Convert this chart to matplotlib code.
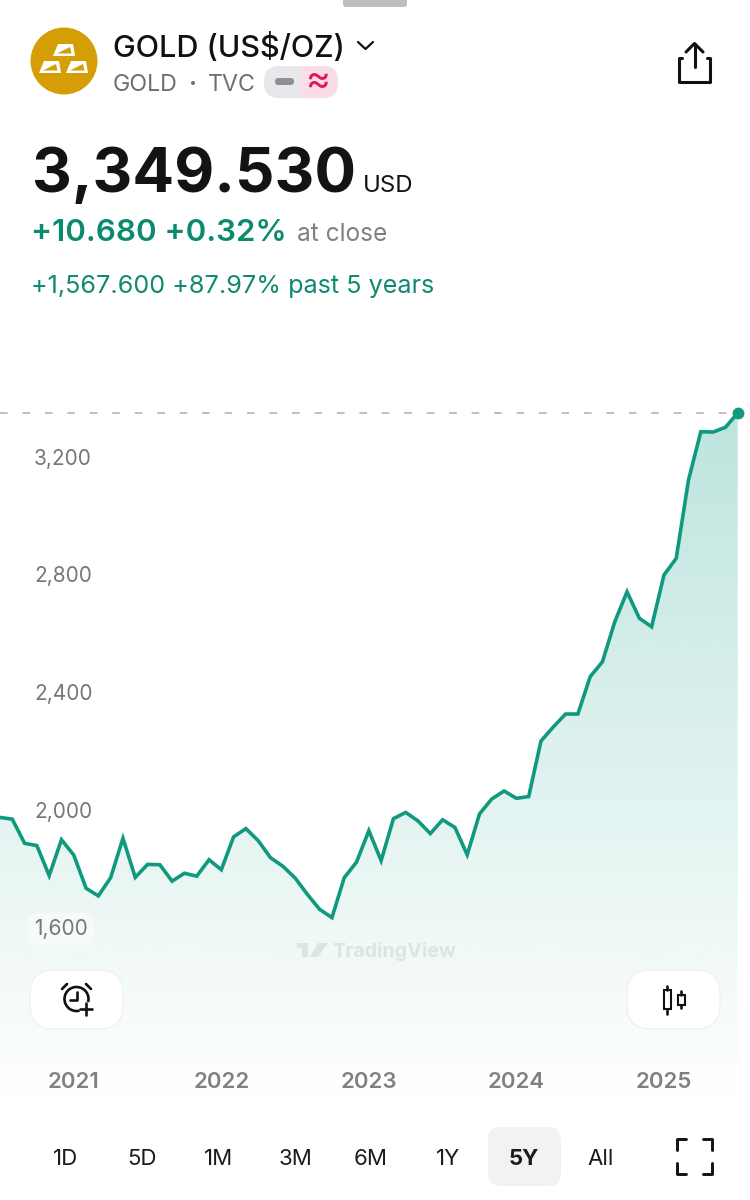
import numpy as np
import matplotlib
matplotlib.use('Agg')
import matplotlib.pyplot as plt
from matplotlib.patches import Circle, FancyBboxPatch, Polygon, Rectangle, Arc

plt.rcParams['font.family'] = ['Inter', 'DejaVu Sans']

# monthly closes, Jul 2020 to Jul 2025
closes = [1973, 1967, 1885, 1877, 1775, 1897, 1845, 1732, 1706, 1768, 1902, 1769,
          1813, 1812, 1756, 1783, 1773, 1829, 1795, 1907, 1935, 1894, 1836, 1807,
          1767, 1711, 1660, 1632, 1768, 1821, 1928, 1826, 1969, 1990, 1961, 1918,
          1965, 1939, 1846, 1985, 2036, 2063, 2038, 2044, 2233, 2281, 2325, 2325,
          2452, 2503, 2639, 2741, 2651, 2622, 2798, 2855, 3122, 3286, 3285, 3301,
          3349.53]
year_ticks = [6, 18, 30, 42, 54]
year_labels = ['2021', '2022', '2023', '2024', '2025']
price_ticks = [1600, 2000, 2400, 2800, 3200]
price_labels = ['1,600', '2,000', '2,400', '2,800', '3,200']
ranges = ['1D', '5D', '1M', '3M', '6M', '1Y', '5Y', 'All']
range_x = [66, 142, 219, 295, 371, 448, 524, 601]

TEAL = '#0f9a7f'
W, H = 750, 1200

fig = plt.figure(figsize=(7.5, 12), dpi=100, facecolor='white')

# chart axes, px 380 to 1110 vertically
top, bottom = 380, 1110
ax = fig.add_axes([0, 1 - bottom / H, 1, (bottom - top) / H])
px_per_unit = 117.5 / 400
val = lambda py: 2000 - (py - 809.5) / px_per_unit
for s in ax.spines.values():
    s.set_visible(False)

x = np.arange(len(closes))
# gradient under the line
grad = np.zeros((256, 2, 4))
grad[..., 0] = 8 / 255
grad[..., 1] = 153 / 255
grad[..., 2] = 129 / 255
grad[..., 3] = np.linspace(0.265, 0, 256)[:, None]
im = ax.imshow(grad, extent=[0, x[-1], val(bottom), closes[-1]], aspect='auto', zorder=1)
ax.set_xlim(0, W / 12.295)
ax.set_ylim(val(bottom), val(top))
poly = ax.fill_between(x, closes, val(bottom), color='none')
im.set_clip_path(poly.get_paths()[0], transform=ax.transData)

ax.plot([0, x[-1]], [closes[-1], closes[-1]], color='#aeaeae', lw=1.1, dashes=(5, 9.7), zorder=2)
ax.plot(x, closes, color=TEAL, lw=2.6, solid_joinstyle='miter', zorder=3)
ax.plot(x[-1], closes[-1], 'o', color=TEAL, ms=8.5, mec='none', zorder=4, clip_on=False)

ax.set_yticks(price_ticks)
ax.set_yticklabels(price_labels, fontsize=15, color='#777777', ha='left')
ax.tick_params(axis='y', length=0, pad=-24.5)
ax.set_xticks(year_ticks)
ax.set_xticklabels(year_labels, fontsize=16, color='#808080', fontweight='semibold')
ax.tick_params(axis='x', length=0, pad=-27.5)
ax.get_yticklabels()[0].set_bbox(dict(boxstyle='round,pad=0.3,rounding_size=0.5', fc=(1, 1, 1, 0.5), ec='none'))

# overlay in pixel coordinates for the app furniture
ui = fig.add_axes([0, 0, 1, 1], facecolor='none')
ui.set_xlim(0, W)
ui.set_ylim(H, 0)
ui.axis('off')


def rbox(x0, y0, x1, y1, r, ec='none', **kw):
    ui.add_patch(FancyBboxPatch((x0 + r, y0 + r), x1 - x0 - 2 * r, y1 - y0 - 2 * r,
                                boxstyle='round,pad=%f,rounding_size=%f' % (r, r), ec=ec, **kw))


def stroke(xs, ys, lw=1.9, color='#111111'):
    ui.plot(xs, ys, color=color, lw=lw, solid_capstyle='round', solid_joinstyle='round')


# top handle
rbox(343, -8, 407, 7, 3, fc='#bdbdbd')

# coin with gold bars
ui.add_patch(Circle((64, 61), 33.5, fc='#d69e05', ec='none'))
for bx, by in [(53, 44), (39, 61), (66, 61)]:
    ui.add_patch(Polygon([(bx + 5, by), (bx + 20, by), (bx + 22, by + 12), (bx, by + 12)], fc='white', ec='none'))
    ui.add_patch(Polygon([(bx + 4, by + 9.5), (bx + 17, by + 3), (bx + 18.5, by + 9.5)], fc='#d69e05', ec='none'))

ui.text(113, 57, 'GOLD (US$/OZ)', fontsize=22, fontweight='medium', color='#111111')
stroke([358, 365.5, 373], [42, 49, 42], lw=1.6)
ui.text(113, 91, 'GOLD', fontsize=16.7, color='#6f6f73')
ui.add_patch(Circle((193, 83), 2, fc='#6f6f73', ec='none'))
ui.text(208, 91, 'TVC', fontsize=16.7, color='#6f6f73')

# pill
rbox(264, 66, 338, 98, 15, fc='#e8e8ea')
clip = Rectangle((301, 60), 40, 45, transform=ui.transData)
pink = FancyBboxPatch((279, 81), 44, 2, boxstyle='round,pad=15,rounding_size=15', fc='#fbdce7', ec='none')
ui.add_patch(pink)
pink.set_clip_path(clip)
rbox(275, 78, 294, 85, 3.5, fc='#8e8f98')
ui.text(318, 81, '≈', fontsize=27, color='#e0185f', ha='center', va='center')

# share icon
stroke([682, 679, 679, 710, 710, 707], [58, 58, 82, 82, 58, 58], lw=2.2)
stroke([694.5, 694.5], [44, 67], lw=2.2)
stroke([686, 694.5, 703], [52, 43.5, 52], lw=2.2)

# price block
ui.text(32, 192.5, '3,349.530', fontsize=44.5, fontweight='bold', color='#131313')
ui.text(363, 192, 'USD', fontsize=17.3, color='#131313')
ui.text(31, 241, '+10.680 +0.32%', fontsize=22.5, fontweight='semibold', color='#0b8a6f')
ui.text(297, 241, 'at close', fontsize=17.6, color='#808080')
ui.text(31, 292.5, '+1,567.600 +87.97% past 5 years', fontsize=18.1, color='#0f8a70')

# watermark
ui.text(332, 957, 'TradingView', fontsize=14.2, fontweight='bold', color='#d9e6e3')
ui.add_patch(Rectangle((297, 943), 11, 4.5, fc='#d9e6e3', ec='none'))
ui.add_patch(Rectangle((302, 943), 5.5, 14, fc='#d9e6e3', ec='none'))
ui.add_patch(Polygon([(310, 957), (318, 943), (328, 943), (318, 957)], fc='#d9e6e3', ec='none'))

# floating buttons
rbox(30, 970, 123, 1029, 24, fc='white', ec='#edf3f1')
rbox(627, 970, 720, 1029, 24, fc='white', ec='#edf3f1')
ui.add_patch(Arc((76.5, 999), 24, 24, theta1=75, theta2=15, ec='#111111', lw=1.9))
stroke([76.5, 76.5, 70], [992, 1000, 1000])
stroke([62, 67], [989, 984])
stroke([91, 86], [989, 984])
stroke([86, 86], [1003, 1015])
stroke([80, 92], [1009, 1009])
for cx, y0, y1, b0, b1 in [(667, 986, 1014, 990, 1009), (681, 991, 1008, 995, 1005)]:
    stroke([cx, cx], [y0, b0])
    stroke([cx, cx], [b1, y1])
    ui.add_patch(Rectangle((cx - 3.5, b0), 7, b1 - b0, fc='none', ec='#111111', lw=1.5))

# range selector
rbox(488, 1127, 561, 1186, 13, fc='#f2f2f2')
for lab, lx in zip(ranges, range_x):
    ui.text(lx, 1165, lab, fontsize=16, ha='center', color='#1c1c1c',
            fontweight='bold' if lab == '5Y' else 'normal')

# fullscreen corners
stroke([677, 677, 686], [1150, 1139, 1139], lw=2.1)
stroke([703, 712, 712], [1139, 1139, 1150], lw=2.1)
stroke([677, 677, 686], [1163, 1174, 1174], lw=2.1)
stroke([703, 712, 712], [1174, 1174, 1163], lw=2.1)

fig.savefig('out.png', dpi=100, facecolor='white')
